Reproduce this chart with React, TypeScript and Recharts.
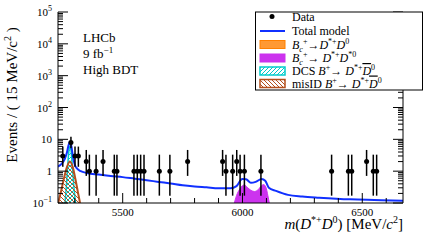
import React from 'react';
import { ComposedChart, Line, Area, Scatter, ErrorBar, XAxis, YAxis } from 'recharts';

// data points: mass [MeV/c^2] and events per 15 MeV/c^2
const dataMass = [5250, 5284, 5301, 5315, 5348, 5361, 5389, 5418, 5465, 5476, 5547, 5561, 5575, 5589, 5653, 5697, 5771, 5917, 5931, 5959, 5976, 5990, 6008, 6077, 6372, 6442, 6456, 6518, 6546, 6560];
const dataCounts = [3, 8, 3, 3, 2, 1, 1, 2, 1, 1, 1, 1, 1, 1, 1, 1, 2, 2, 1, 1, 2, 1, 1, 1, 1, 1, 1, 2, 1, 1];
// asymmetric poisson errors (low, high) per count
const poissonLow: Record<number, number> = { 1: 0.83, 2: 1.29, 3: 1.63, 8: 2.77 };
const poissonHigh: Record<number, number> = { 1: 2.3, 2: 2.64, 3: 2.92, 8: 3.95 };

// total model
const modelMass = [5230, 5245, 5258, 5267, 5274, 5280, 5286, 5292, 5300, 5310, 5325, 5350, 5400, 5450, 5500, 5550, 5600, 5650, 5700, 5750, 5800, 5850, 5900, 5950, 5975, 5999, 6015, 6035, 6055, 6080, 6095, 6110, 6140, 6190, 6250, 6320, 6450, 6550, 6670];
const modelValue = [1.4, 1.7, 2.4, 3.8, 6.5, 8.5, 6.0, 3.0, 1.6, 1.2, 1.0, 0.88, 0.78, 0.7, 0.65, 0.58, 0.52, 0.46, 0.41, 0.36, 0.33, 0.31, 0.29, 0.29, 0.34, 0.57, 0.56, 0.43, 0.46, 0.57, 0.5, 0.3, 0.24, 0.18, 0.16, 0.147, 0.13, 0.124, 0.118];

// B_c+ -> D*+ D*0
const dstMass = [5966, 5975, 5988, 6000, 6008, 6020, 6035, 6050, 6065, 6078, 6088, 6098, 6106, 6112];
const dstValue = [0.1, 0.17, 0.27, 0.35, 0.37, 0.31, 0.25, 0.23, 0.26, 0.34, 0.38, 0.31, 0.17, 0.1];

// DCS B+ -> D*+ D0bar
const dcsMass = [5259, 5265, 5270, 5275, 5280, 5285, 5290, 5296, 5303];
const dcsValue = [0.1, 0.35, 1.3, 4.0, 6.2, 4.2, 1.4, 0.35, 0.1];

// misID B+ -> D*+ D0bar
const misMass = [5231, 5242, 5255, 5268, 5280, 5292, 5303, 5313, 5322];
const misValue = [0.1, 0.22, 0.6, 1.4, 2.0, 1.3, 0.55, 0.22, 0.1];

const xTicks = [5300, 5400, 5500, 5600, 5700, 5800, 5900, 6000, 6100, 6200, 6300, 6400, 6500, 6600];
const decades = [0.1, 1, 10, 100, 1000, 10000, 100000];
const minorSteps = [2, 3, 4, 5, 6, 7, 8, 9];

const yTicks = decades.flatMap((d) => (d < 100000 ? [d, ...minorSteps.map((s) => d * s)] : [d]));

const zip = (ms: number[], vs: number[]) => ms.map((m, i) => ({ m, v: vs[i] }));
const pointsData = dataMass.map((m, i) => ({
  m,
  v: dataCounts[i],
  err: [poissonLow[dataCounts[i]], poissonHigh[dataCounts[i]]],
}));

const FONT = '"Liberation Serif", "Times New Roman", serif';
const TM = 4;

const isDecade = (v: number) => {
  const l = Math.log10(v);
  return Math.abs(l - Math.round(l)) < 1e-6;
};

const YTick = (props: any) => {
  const { x, y, payload, side } = props;
  const v = payload.value;
  const major = isDecade(v);
  const len = major ? 10 : 5;
  if (side === 'right') {
    const ax = x - TM;
    return <line x1={ax} x2={ax - len} y1={y} y2={y} stroke="#000" />;
  }
  const ax = x + TM;
  const e = Math.round(Math.log10(v));
  return (
    <g>
      <line x1={ax} x2={ax + len} y1={y} y2={y} stroke="#000" />
      {major && (
        <text x={x - 2} y={y + 4} textAnchor="end" fontFamily={FONT} fontSize={11} fill="#000">
          {e === 0 ? '1' : e === 1 ? '10' : (
            <>
              10<tspan dy={-5} fontSize={8}>{e < 0 ? '\u2212' + -e : String(e)}</tspan>
            </>
          )}
        </text>
      )}
    </g>
  );
};

const XTick = (props: any) => {
  const { x, y, payload, side } = props;
  const v = payload.value;
  const major = v % 500 === 0;
  const len = major ? 10 : 5;
  if (side === 'top') {
    const ay = y + TM;
    return <line x1={x} x2={x} y1={ay} y2={ay + len} stroke="#000" />;
  }
  const ay = y - TM;
  return (
    <g>
      <line x1={x} x2={x} y1={ay} y2={ay - len} stroke="#000" />
      {major && (
        <text x={x} y={ay + 13} textAnchor="middle" fontFamily={FONT} fontSize={11} fill="#000">
          {v}
        </text>
      )}
    </g>
  );
};

const Dot = (props: any) => <circle cx={props.cx} cy={props.cy} r={2.5} fill="#000" />;

export default function App() {
  const rowY = [16.5, 31, 44.5, 58, 71, 83.5];
  return (
    <div style={{ position: 'absolute', left: 0, top: 0, width: 425, height: 242, background: '#fff' }}>
      <ComposedChart width={425} height={242} margin={{ top: 12, right: 0, bottom: 0, left: 0 }}>
        <XAxis
          dataKey="m"
          type="number"
          domain={[5230, 6670]}
          allowDataOverflow
          ticks={xTicks}
          interval={0}
          height={39}
          tickLine={false}
          tickSize={0}
          tickMargin={TM}
          axisLine={{ stroke: '#000' }}
          tick={<XTick side="bottom" />}
        />
        <XAxis
          xAxisId="top"
          orientation="top"
          dataKey="m"
          type="number"
          domain={[5230, 6670]}
          allowDataOverflow
          ticks={xTicks}
          interval={0}
          height={0}
          tickLine={false}
          tickSize={0}
          tickMargin={TM}
          axisLine={{ stroke: '#000' }}
          tick={<XTick side="top" />}
        />
        <YAxis
          type="number"
          scale="log"
          domain={[0.1, 100000]}
          allowDataOverflow
          ticks={yTicks}
          interval={0}
          width={58}
          tickLine={false}
          tickSize={0}
          tickMargin={TM}
          axisLine={{ stroke: '#000' }}
          tick={<YTick side="left" />}
        />
        <YAxis
          yAxisId="right"
          orientation="right"
          type="number"
          scale="log"
          domain={[0.1, 100000]}
          allowDataOverflow
          ticks={yTicks}
          interval={0}
          width={22}
          tickLine={false}
          tickSize={0}
          tickMargin={TM}
          axisLine={{ stroke: '#000' }}
          tick={<YTick side="right" />}
        />
        <Area
          data={zip(dstMass, dstValue)}
          dataKey="v"
          type="monotone"
          baseValue={0.1}
          fill="#cc33ee"
          fillOpacity={1}
          stroke="#cc33ee"
          strokeWidth={1}
          isAnimationActive={false}
          dot={false}
          activeDot={false}
        />
        <Area
          data={zip(dcsMass, dcsValue)}
          dataKey="v"
          type="monotone"
          baseValue={0.1}
          fill="url(#hatchCyan)"
          fillOpacity={1}
          stroke="#00cccc"
          strokeWidth={1.5}
          isAnimationActive={false}
          dot={false}
          activeDot={false}
        />
        <Area
          data={zip(misMass, misValue)}
          dataKey="v"
          type="monotone"
          baseValue={0.1}
          fill="url(#hatchBrown)"
          fillOpacity={1}
          stroke="#b4501e"
          strokeWidth={2}
          isAnimationActive={false}
          dot={false}
          activeDot={false}
        />
        <Line
          data={zip(modelMass, modelValue)}
          dataKey="v"
          type="monotone"
          stroke="#1030ff"
          strokeWidth={2}
          dot={false}
          activeDot={false}
          isAnimationActive={false}
        />
        <Scatter data={pointsData} dataKey="v" shape={<Dot />} isAnimationActive={false}>
          <ErrorBar dataKey="err" direction="y" width={0} stroke="#000" strokeWidth={1.5} isAnimationActive={false} />
        </Scatter>
      </ComposedChart>
      <svg width={425} height={242} style={{ position: 'absolute', left: 0, top: 0, pointerEvents: 'none' }}>
        <defs>
          <pattern id="hatchCyan" patternUnits="userSpaceOnUse" width={4} height={4}>
            <path d="M-1,1 l2,-2 M0,4 l4,-4 M3,5 l2,-2" stroke="#00c8c8" strokeWidth={1} />
          </pattern>
          <pattern id="hatchBrown" patternUnits="userSpaceOnUse" width={4} height={4}>
            <path d="M-1,3 l2,2 M0,0 l4,4 M3,-1 l2,2" stroke="#b4501e" strokeWidth={1} />
          </pattern>
        </defs>
        <g fontFamily={FONT} fill="#000">
          <text transform="translate(17,95) rotate(-90)" textAnchor="middle" fontSize={15}>
            Events / ( 15 MeV/c<tspan dy={-6} fontSize={10}>2</tspan><tspan dy={6}> )</tspan>
          </text>
          <text x={403} y={229} textAnchor="end" fontSize={15}>
            <tspan fontStyle="italic">m</tspan>(<tspan fontStyle="italic">D</tspan>
            <tspan dy={-6} fontSize={10}>*+</tspan>
            <tspan dy={6} fontStyle="italic">D</tspan>
            <tspan dy={-6} fontSize={10}>0</tspan>
            <tspan dy={6}>) [MeV/</tspan>
            <tspan fontStyle="italic">c</tspan>
            <tspan dy={-6} fontSize={10}>2</tspan>
            <tspan dy={6}>]</tspan>
          </text>
          <text x={83} y={42} fontSize={13}>LHCb</text>
          <text x={83} y={58} fontSize={13}>9 fb<tspan dy={-5} fontSize={9}>{'\u22121'}</tspan></text>
          <text x={83} y={74} fontSize={13}>High BDT</text>

          <rect x={255.5} y={12} width={167} height={78} fill="#fff" stroke="#000" strokeWidth={1} />
          <circle cx={272} cy={rowY[0]} r={2.5} fill="#000" />
          <line x1={260} x2={285} y1={rowY[1]} y2={rowY[1]} stroke="#1030ff" strokeWidth={2} />
          <rect x={260} y={rowY[2] - 4} width={25} height={8} fill="#ff9933" stroke="#ff8000" strokeWidth={1} />
          <rect x={260} y={rowY[3] - 4} width={25} height={8} fill="#cc33ee" stroke="#cc33ee" strokeWidth={1} />
          <rect x={260} y={rowY[4] - 4} width={25} height={8} fill="url(#hatchCyan)" stroke="#00cccc" strokeWidth={1.5} />
          <rect x={260} y={rowY[5] - 4} width={25} height={8} fill="url(#hatchBrown)" stroke="#b4501e" strokeWidth={1.5} />

          <g fontSize={12}>
            <text x={292} y={rowY[0] + 4}>Data</text>
            <text x={292} y={rowY[1] + 4}>Total model</text>
            <text x={292} y={rowY[2] + 4}>
              <tspan fontStyle="italic">B</tspan>
              <tspan dy={3} fontSize={8} fontStyle="italic">c</tspan>
              <tspan dy={-8} fontSize={8}>+</tspan>
              <tspan dy={5}>{'\u2192'}</tspan>
              <tspan fontStyle="italic">D</tspan>
              <tspan dy={-5} fontSize={8}>*+</tspan>
              <tspan dy={5} fontStyle="italic">D</tspan>
              <tspan dy={-5} fontSize={8}>0</tspan>
            </text>
            <text x={292} y={rowY[3] + 4}>
              <tspan fontStyle="italic">B</tspan>
              <tspan dy={3} fontSize={8} fontStyle="italic">c</tspan>
              <tspan dy={-8} fontSize={8}>+</tspan>
              <tspan dy={5}>{'\u2192 '}</tspan>
              <tspan fontStyle="italic">D</tspan>
              <tspan dy={-5} fontSize={8}>*+</tspan>
              <tspan dy={5} fontStyle="italic">D</tspan>
              <tspan dy={-5} fontSize={8}>*0</tspan>
            </text>
            <text x={292} y={rowY[4] + 4}>
              DCS <tspan fontStyle="italic">B</tspan>
              <tspan dy={-5} fontSize={8}>+</tspan>
              <tspan dy={5}>{'\u2192 '}</tspan>
              <tspan fontStyle="italic">D</tspan>
              <tspan dy={-5} fontSize={8}>*+</tspan>
              <tspan dy={5} fontStyle="italic" textDecoration="overline">D</tspan>
              <tspan dy={-5} fontSize={8}>0</tspan>
            </text>
            <text x={292} y={rowY[5] + 4}>
              misID <tspan fontStyle="italic">B</tspan>
              <tspan dy={-5} fontSize={8}>+</tspan>
              <tspan dy={5}>{'\u2192 '}</tspan>
              <tspan fontStyle="italic">D</tspan>
              <tspan dy={-5} fontSize={8}>*+</tspan>
              <tspan dy={5} fontStyle="italic" textDecoration="overline">D</tspan>
              <tspan dy={-5} fontSize={8}>0</tspan>
            </text>
          </g>
        </g>
      </svg>
    </div>
  );
}
